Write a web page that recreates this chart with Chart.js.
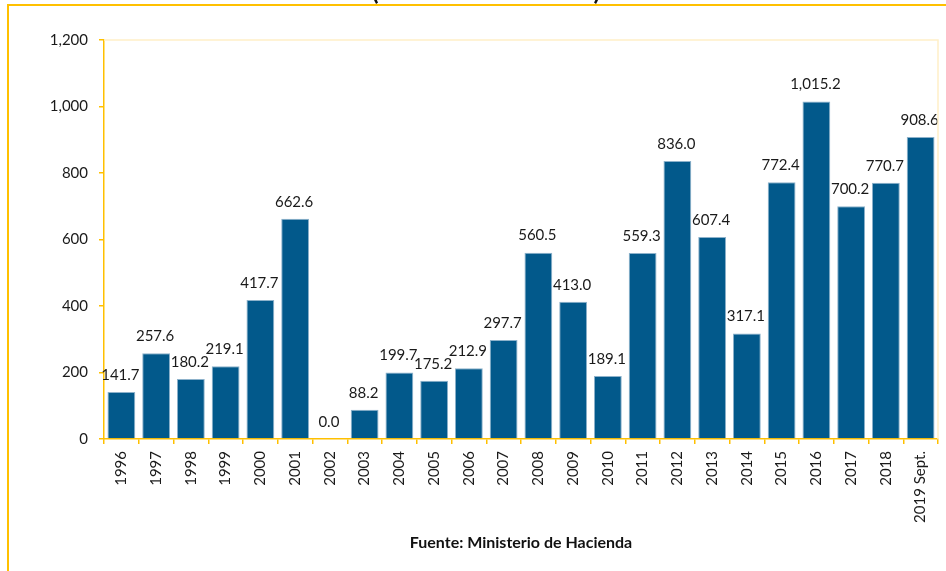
<!DOCTYPE html>
<html>
<head>
<meta charset="utf-8">
<script src="https://cdn.jsdelivr.net/npm/chart.js@4"></script>
<style>
  html, body { margin: 0; padding: 0; background: #fff; }
  canvas { display: block; }
</style>
</head>
<body>
<canvas id="chart" width="946" height="571"></canvas>
<script>
const years = ['1996', '1997', '1998', '1999', '2000', '2001', '2002', '2003', '2004', '2005', '2006', '2007',
  '2008', '2009', '2010', '2011', '2012', '2013', '2014', '2015', '2016', '2017', '2018', '2019 Sept.'];
const values = [141.7, 257.6, 180.2, 219.1, 417.7, 662.6, 0.0, 88.2, 199.7, 175.2, 212.9, 297.7,
  560.5, 413.0, 189.1, 559.3, 836.0, 607.4, 317.1, 772.4, 1015.2, 700.2, 770.7, 908.6];
const yTicks = [0, 200, 400, 600, 800, 1000, 1200];
const titleText = '(Millones de dólares)';
const sourceText = 'Fuente: Ministerio de Hacienda';

const gold = '#FFC000';
const fontFam = 'Lato, "Open Sans", sans-serif';

// frame, title remnant and source note
const decorations = {
  id: 'decorations',
  beforeDraw(chart) {
    const ctx = chart.ctx;
    ctx.save();
    ctx.strokeStyle = gold;
    ctx.lineWidth = 2;
    ctx.beginPath();
    ctx.moveTo(8, 600);
    ctx.lineTo(8, 5);
    ctx.lineTo(960, 5);
    ctx.stroke();
    ctx.restore();
  },
  afterDraw(chart) {
    const ctx = chart.ctx;
    const a = chart.chartArea;
    ctx.save();
    ctx.strokeStyle = '#FFF0C8';
    ctx.lineWidth = 1.5;
    ctx.beginPath();
    ctx.moveTo(a.left, a.top);
    ctx.lineTo(a.right, a.top);
    ctx.lineTo(a.right, a.bottom);
    ctx.stroke();

    ctx.fillStyle = '#111';
    ctx.font = 'bold 25px ' + fontFam;
    ctx.textAlign = 'center';
    ctx.textBaseline = 'alphabetic';
    ctx.fillText(titleText, 486, 0);

    ctx.font = 'bold 16px ' + fontFam;
    ctx.textBaseline = 'middle';
    ctx.fillText(sourceText, 521, 543);
    ctx.restore();
  }
};

// value labels above bars
const barLabels = {
  id: 'barLabels',
  afterDatasetsDraw(chart) {
    const ctx = chart.ctx;
    const meta = chart.getDatasetMeta(0);
    ctx.save();
    ctx.fillStyle = '#1a1a1a';
    ctx.font = '15px ' + fontFam;
    ctx.textAlign = 'center';
    ctx.textBaseline = 'middle';
    meta.data.forEach((bar, i) => {
      const txt = values[i].toLocaleString('en-US', { minimumFractionDigits: 1, maximumFractionDigits: 1 });
      ctx.fillText(txt, bar.x - 1, bar.y - 17);
    });
    ctx.restore();
  }
};

new Chart(document.getElementById('chart').getContext('2d'), {
  type: 'bar',
  data: {
    labels: years,
    datasets: [{
      data: values,
      backgroundColor: '#02598B',
      borderColor: '#8DB2CB',
      borderWidth: 1,
      categoryPercentage: 1.0,
      barPercentage: 0.8
    }]
  },
  options: {
    responsive: false,
    animation: false,
    layout: { padding: { left: 0, right: 8, top: 40, bottom: 0 } },
    plugins: {
      legend: { display: false },
      tooltip: { enabled: false },
      title: { display: false }
    },
    scales: {
      x: {
        grid: { display: true, drawOnChartArea: false, drawTicks: true, tickLength: 5, color: gold, lineWidth: 1.5 },
        border: { color: gold, width: 1.5 },
        ticks: {
          color: '#1a1a1a',
          font: { family: fontFam, size: 15 },
          minRotation: 90,
          maxRotation: 90,
          autoSkip: false,
          padding: 7
        },
        afterFit(scale) { scale.height = 132; }
      },
      y: {
        min: 0,
        max: 1200,
        afterBuildTicks(scale) { scale.ticks = yTicks.map(v => ({ value: v })); },
        grid: { display: true, drawOnChartArea: false, drawTicks: true, tickLength: 5, color: gold, lineWidth: 1.5 },
        border: { color: gold, width: 1.5 },
        ticks: {
          color: '#1a1a1a',
          font: { family: fontFam, size: 15 },
          padding: 11,
          callback: v => v.toLocaleString('en-US')
        },
        afterFit(scale) { scale.width = 104; }
      }
    }
  },
  plugins: [decorations, barLabels]
});
</script>
</body>
</html>
